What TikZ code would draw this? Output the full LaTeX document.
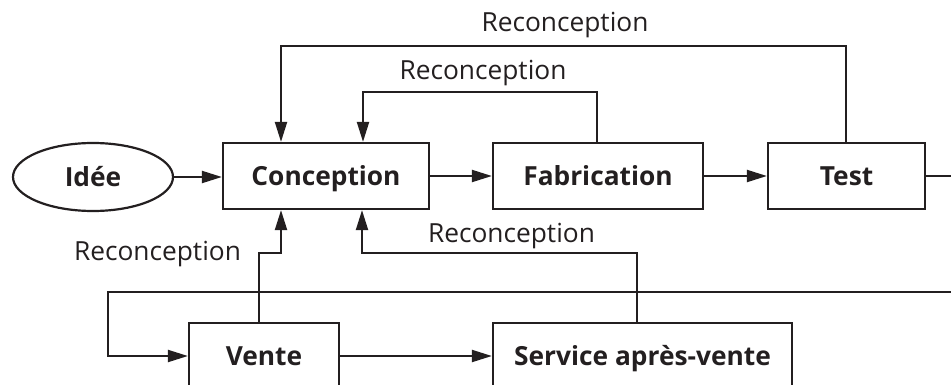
\documentclass[tikz,border=0pt]{standalone}
\usepackage{fontspec}
\setmainfont{Open Sans}
\usetikzlibrary{arrows.meta,shapes.geometric}
\begin{document}
\begin{tikzpicture}[x=1pt,y=-1pt,
  line width=2pt, draw={rgb,255:red,35;green,31;blue,32},
  every node/.style={text={rgb,255:red,35;green,31;blue,32}},
  arr/.style={-{Triangle[length=20pt,width=12pt]}},
  bfont/.style={font=\fontsize{26.3}{30}\selectfont\bfseries, text height=19pt, text depth=0pt},
  box/.style={draw, rectangle, minimum height=66pt, inner sep=0pt, line width=2.2pt, bfont},
  lbl/.style={font=\fontsize{26.3}{30}\selectfont, anchor=base, inner sep=0pt}]
\useasboundingbox (0,0) rectangle (951,385);
\clip (0,0) rectangle (951,385);
\node[draw, ellipse, minimum width=160pt, minimum height=68pt, inner sep=0pt, line width=2.2pt, bfont] (idee) at (93,177) {Idée};
\node[box, minimum width=206pt] (conc) at (326,176) {Conception};
\node[box, minimum width=210pt] (fab) at (598,176) {Fabrication};
\node[box, minimum width=157pt] (test) at (846.5,176) {Test};
\node[box, minimum width=150pt] (vente) at (264,356) {Vente};
\node[box, minimum width=299pt] (sav) at (642.5,356) {Service après-vente};
% main flow
\draw[arr] (idee.east) -- (idee.east -| conc.west);
\draw[arr] (conc) -- (fab);
\draw[arr] (fab) -- (test);
\coordinate (r1) at (990,176);
\coordinate (r2) at (990,292);
\coordinate (l1) at (108,292);
\draw[arr] (test.east) -- (r1) -- (r2) -- (l1) |- (vente.west);
\draw[arr] (vente) -- (sav);
% reconception loops
\coordinate (t1) at (281,46);
\coordinate (t2) at (846,46);
\draw[arr] (t2 |- test.north) -- (t2) -- (t1) -- (t1 |- conc.north);
\coordinate (f1) at (363,92);
\coordinate (f2) at (597,92);
\draw[arr] (f2 |- fab.north) -- (f2) -- (f1) -- (f1 |- conc.north);
\coordinate (v1) at (259,253);
\coordinate (v2) at (281,253);
\draw[arr] (v1 |- vente.north) -- (v1) -- (v2) -- (v2 |- conc.south);
\coordinate (s1) at (637,253);
\coordinate (s2) at (362,253);
\draw[arr] (s1 |- sav.north) -- (s1) -- (s2) -- (s2 |- conc.south);
% labels
\node[lbl] (lt) at (565,32) {Reconception};
\node[lbl] (lf) at (483,80) {Reconception};
\node[lbl] (lv) at (157.5,260) {Reconception};
\node[lbl] (ls) at (511.5,242) {Reconception};
\end{tikzpicture}
\end{document}
